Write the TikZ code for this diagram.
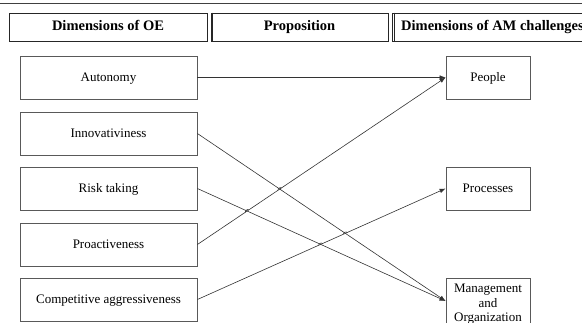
\documentclass[tikz,border=0pt]{standalone}
\usepackage{fontspec}
\setmainfont{Liberation Serif}
\usetikzlibrary{arrows.meta,calc,intersections}
\begin{document}
\begin{tikzpicture}[x=1pt,y=-1pt,
  hbox/.style={draw=black!85, line width=0.9pt, minimum height=28pt, inner sep=0pt,
    text height=11pt, text depth=3.6pt,
    font=\fontsize{14.5}{16}\selectfont\bfseries},
  lbox/.style={draw=black!65, line width=0.8pt, minimum width=177pt, minimum height=43pt,
    inner sep=0pt, text height=10pt, text depth=2pt, font=\fontsize{13}{14.5}\selectfont},
  rbox/.style={lbox, minimum width=84pt},
  link/.style={draw=black!80, line width=0.6pt},
  arr/.style={link, -{Latex[length=6pt,width=4.5pt]}},
]
\useasboundingbox (0,0) rectangle (582,322);
\clip (0,0) rectangle (582,322);

% top rule
\draw[line width=1.6pt, black!75] (0,3.6) -- (582,3.6);

% header
\node[hbox, minimum width=198pt] (H1) at (108,27) {Dimensions of OE};
\node[hbox, minimum width=177pt] (H2) at (299.5,27) {Proposition};
\node[hbox, minimum width=200pt, anchor=west, inner xsep=6pt, align=left] (H3) at (392,27) {Dimensions of AM challenges};
\draw[black!85, line width=0.6pt] ($(H2.north west)+(2,0)$) -- ($(H2.south west)+(2,0)$);
\draw[black!85, line width=0.6pt] ($(H3.north west)+(2,0)$) -- ($(H3.south west)+(2,0)$);

% left boxes
\node[lbox] (A) at (108.5,77.5) {Autonomy};
\node[lbox] (I) at (108.5,133.5) {Innovativiness};
\node[lbox] (R) at (108.5,188.5) {Risk taking};
\node[lbox] (P) at (108.5,244.5) {Proactiveness};
\node[lbox] (C) at (108.5,299.5) {Competitive aggressiveness};

% right boxes
\node[rbox] (Pe) at (488,77.5) {People};
\node[rbox] (Pr) at (488,188.5) {Processes};
\node[rbox, minimum height=0pt, text height=, text depth=, inner ysep=6pt, anchor=north, align=center] (M) at (488,278)
  {Management\\and\\Organization};
\coordinate (mgt) at ($(M.north west)+(0,23)$);

% connectors
\draw[arr] (A.east) -- (Pe.west);
\draw[arr, name path=pInn] (I.east) -- (mgt);
\draw[arr, name path=pRisk] (R.east) -- (mgt);
\draw[arr, name path=pPro] (P.east) -- (Pe.west);
\draw[arr, name path=pComp] (C.east) -- (Pr.west);

% line hops
\path[name intersections={of=pPro and pInn, by=x1}];
\path[name intersections={of=pPro and pRisk, by=x2}];
\path[name intersections={of=pComp and pInn, by=x3}];
\path[name intersections={of=pComp and pRisk, by=x4}];
\foreach \p/\a/\b in {x1/P.east/Pe.west, x2/P.east/Pe.west, x3/C.east/Pr.west, x4/C.east/Pr.west}{
  \draw[link] ($(\p)!2pt!(\a)$) to[bend left=90] ($(\p)!2pt!(\b)$);
}
\end{tikzpicture}
\end{document}
